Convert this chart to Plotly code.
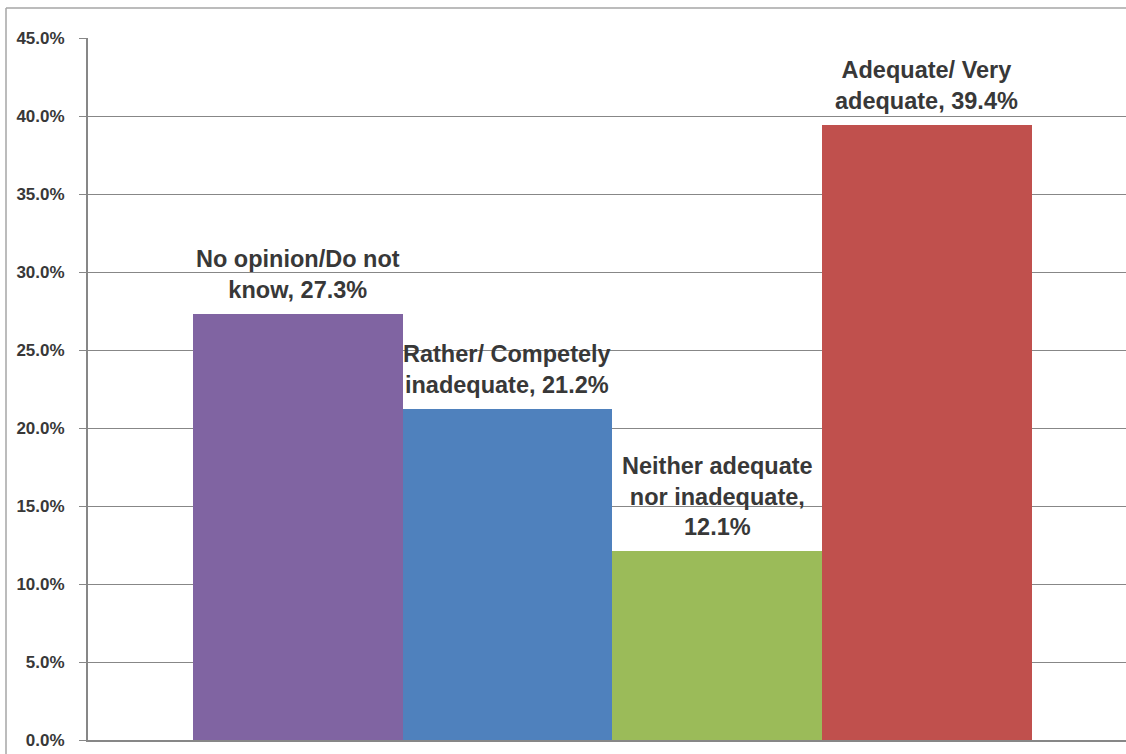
import plotly.graph_objects as go

categories = ["No opinion/Do not<br>know", "Rather/ Competely<br>inadequate",
              "Neither adequate<br>nor inadequate,", "Adequate/ Very<br>adequate"]
label_seps = [", ", ", ", "<br>", ", "]
values = [27.3, 21.2, 12.1, 39.4]
colors = ["#8064A2", "#4F81BD", "#9BBB59", "#C0504D"]
tick_vals = [0, 5, 10, 15, 20, 25, 30, 35, 40, 45]
tick_text = ["%.1f%%" % v for v in tick_vals]

positions = list(range(len(values)))

fig = go.Figure()
fig.add_trace(go.Bar(
    x=positions, y=values, width=1.0,
    marker=dict(color=colors, line=dict(width=0)),
    hoverinfo="skip", showlegend=False,
))

for p, c, s, v in zip(positions, categories, label_seps, values):
    fig.add_annotation(
        x=p, y=v, xref="x", yref="y",
        text="<b>%s%s%.1f%%</b>" % (c, s, v),
        showarrow=False, yanchor="bottom", xanchor="center",
        yshift=9, align="center",
        font=dict(family="Liberation Sans, Arial, sans-serif", size=23.5,
                  color="#383838", weight="bold"),
    )

grey = "#878787"
fig.update_layout(
    width=1126, height=754,
    margin=dict(l=88, r=0, t=38, b=14),
    paper_bgcolor="white", plot_bgcolor="white",
    bargap=0,
    xaxis=dict(range=[-1.0, 3.949], showgrid=False, zeroline=False,
               showticklabels=False, ticks="", showline=True,
               linecolor=grey, linewidth=2),
    yaxis=dict(range=[0, 45], tickvals=tick_vals, ticktext=tick_text,
               showgrid=True, gridcolor=grey, gridwidth=1, zeroline=False,
               showline=True, linecolor=grey, linewidth=2,
               ticks="outside", ticklen=7, tickcolor=grey, tickwidth=1,
               ticklabelstandoff=11,
               tickfont=dict(family="Liberation Sans, Arial, sans-serif", size=17,
                             color="#383838", weight="bold")),
    shapes=[
        dict(type="line", xref="paper", yref="paper", x0=-0.079, x1=1.0,
             y0=1.0427, y1=1.0427, line=dict(color="#a6a6a6", width=1.5)),
        dict(type="line", xref="paper", yref="paper", x0=-0.079, x1=-0.079,
             y0=-0.0199, y1=1.0427, line=dict(color="#a6a6a6", width=1.5)),
    ],
)

fig.write_html("out.html", config={"displayModeBar": False})
